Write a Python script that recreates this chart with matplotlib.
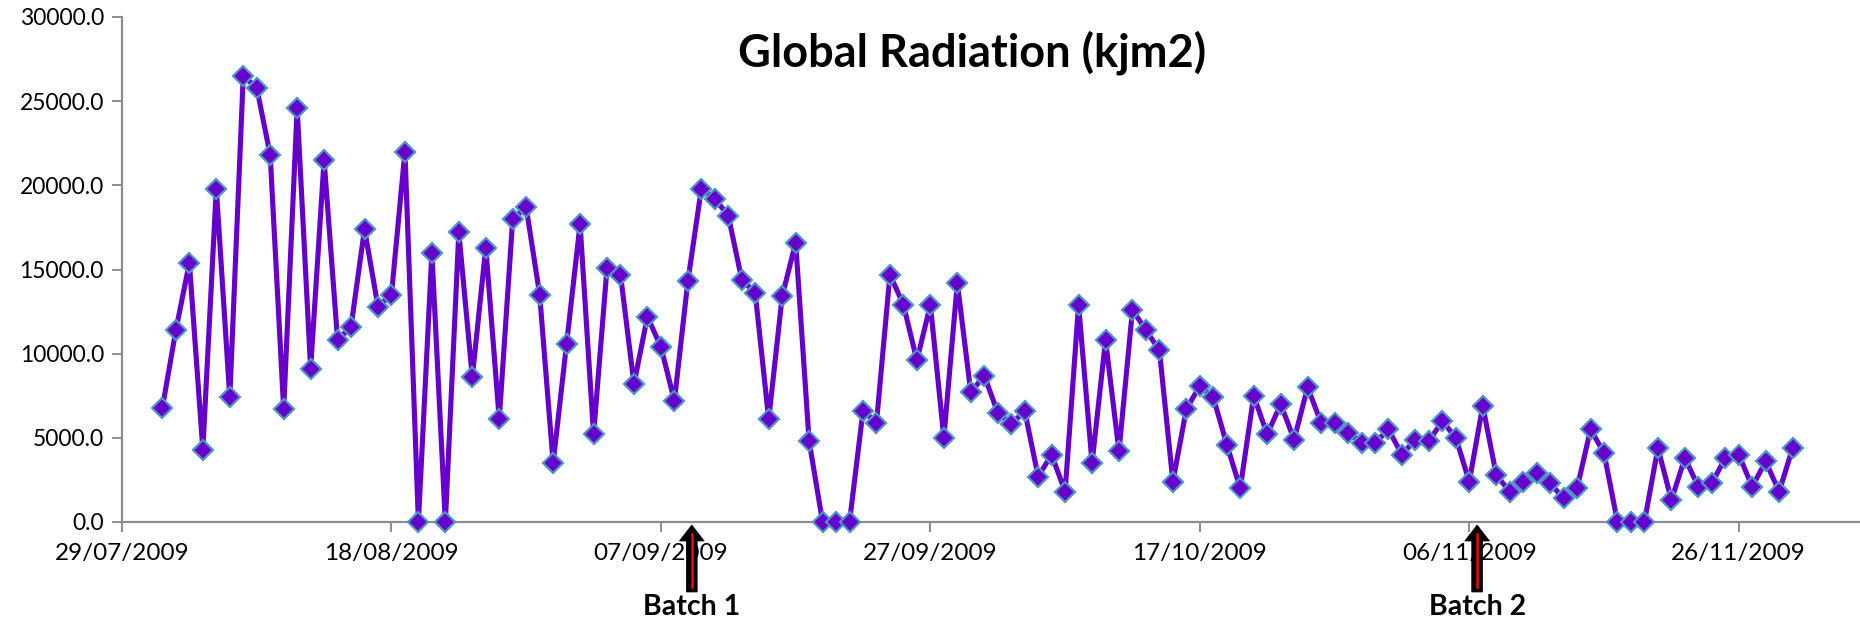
import numpy as np
import matplotlib
matplotlib.use("Agg")
import matplotlib.pyplot as plt
import matplotlib.dates as mdates
from matplotlib.patches import Polygon
from matplotlib.transforms import blended_transform_factory
import datetime as dt

# ---------------- data ----------------
start_date = dt.date(2009, 8, 1)
radiation = [
    6800, 11400, 15400, 4300, 19800, 7400, 26500, 25800, 21800, 6700,
    24600, 9100, 21500, 10800, 11600, 17400, 12800, 13500, 22000, 0,
    16000, 0, 17200, 8600, 16300, 6100, 18000, 18700, 13500, 3500,
    10600, 17700, 5200, 15100, 14700, 8200, 12200, 10400, 7200, 14300,
    19800, 19200, 18200, 14400, 13600, 6100, 13400, 16600, 4800, 0,
    0, 0, 6600, 5900, 14700, 12900, 9600, 12900, 5000, 14200,
    7700, 8700, 6500, 5800, 6600, 2700, 4000, 1800, 12900, 3500,
    10800, 4200, 12600, 11400, 10200, 2400, 6700, 8100, 7400, 4600,
    2000, 7500, 5200, 7000, 4900, 8000, 5900, 5900, 5300, 4700,
    4700, 5500, 4000, 4900, 4800, 6000, 5000, 2400, 6900, 2800,
    1800, 2400, 2900, 2300, 1400, 2000, 5500, 4100, 0, 0,
    0, 4400, 1300, 3800, 2100, 2300, 3800, 4000, 2100, 3600,
    1800, 4400,
]
dates = [start_date + dt.timedelta(days=i) for i in range(len(radiation))]

title = "Global Radiation (kjm2)"
tick_start = dt.date(2009, 7, 29)
tick_step_days = 20
yticks = [0, 5000, 10000, 15000, 20000, 25000, 30000]
batch_labels = ["Batch 1", "Batch 2"]
batch_dates = [dt.datetime(2009, 9, 9, 7), dt.datetime(2009, 11, 6, 14)]

# ---------------- style ----------------
FONT = ["Lato", "DejaVu Sans"]
plt.rcParams["font.family"] = FONT
line_color = "#6600CC"
edge_color = "#4F94C4"
axis_color = "#8C8C8C"

W, H = 1860, 626
fig = plt.figure(figsize=(W / 100, H / 100), dpi=100)
ax = fig.add_axes([122 / W, 1 - 522 / H, 1 - 122 / W, (522 - 17) / H])

ax.plot(dates, radiation, color=line_color, lw=3.7, marker="D", ms=10.3,
        mfc=line_color, mec=edge_color, mew=1.6, zorder=3, clip_on=False)

xmin = dt.datetime.combine(tick_start, dt.time())
ax.set_xlim(mdates.date2num(xmin), mdates.date2num(xmin) + 129)
ax.set_ylim(0, 30000)

xt = [xmin + dt.timedelta(days=tick_step_days * k) for k in range(7)]
ax.set_xticks(xt)
ax.xaxis.set_major_formatter(mdates.DateFormatter("%d/%m/%Y"))
ax.set_yticks(yticks)
ax.yaxis.set_major_formatter(matplotlib.ticker.FormatStrFormatter("%.1f"))

for s in ["top", "right"]:
    ax.spines[s].set_visible(False)
for s in ["left", "bottom"]:
    ax.spines[s].set_color(axis_color)
    ax.spines[s].set_linewidth(1.6)
ax.tick_params(axis="both", colors=axis_color, width=1.4, length=7,
               labelcolor="black", labelsize=16.5, direction="out")
ax.tick_params(axis="x", pad=8, labelsize=17.5)
ax.tick_params(axis="y", pad=6)

fig.text(972 / W, 1 - 53 / H, title, ha="center", va="center",
         fontsize=32.5, fontweight="bold")

# batch arrows
tr = blended_transform_factory(ax.transData, fig.transFigure)
def fy(py):
    return 1 - py / H
for lab, bd in zip(batch_labels, batch_dates):
    x = mdates.date2num(bd)
    hw, sw = 0.92, 0.40
    tip, head_base, bottom = fy(525), fy(541), fy(592)
    pts = [(x, tip), (x + hw, head_base), (x + sw, head_base), (x + sw, bottom),
           (x - sw, bottom), (x - sw, head_base), (x - hw, head_base)]
    ax.add_patch(Polygon(pts, closed=True, transform=tr, fc="black", ec="black",
                         lw=0.5, clip_on=False, zorder=5))
    ax.plot([x, x], [fy(534), fy(587)], transform=tr, color="red", lw=1.8,
            clip_on=False, zorder=6)
    ax.text(x, fy(607), lab, transform=tr, ha="center", va="center",
            fontsize=20.5, fontweight="bold")

fig.savefig("out.png", dpi=100)
